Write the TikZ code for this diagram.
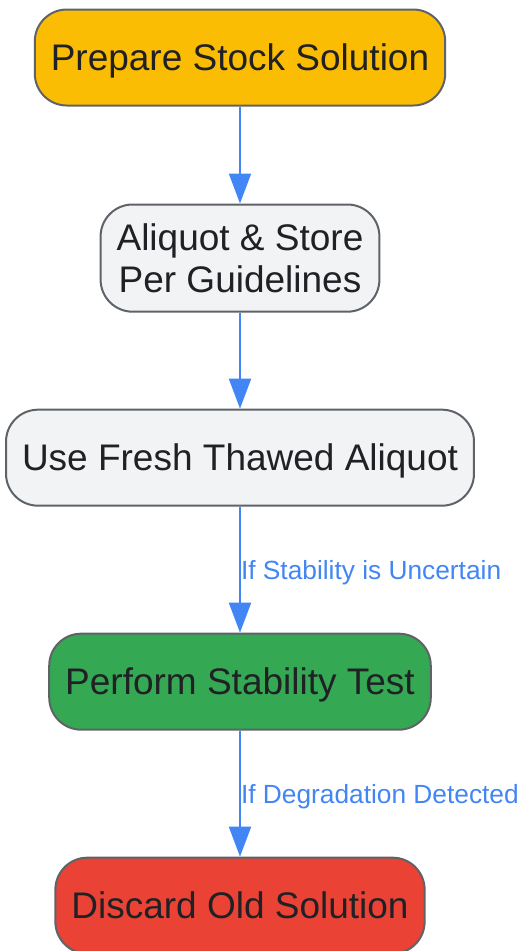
\documentclass[tikz,border=0pt]{standalone}
\usepackage{fontspec}
\setmainfont{Liberation Sans}
\usetikzlibrary{arrows.meta,positioning}
\definecolor{stockyellow}{HTML}{FBBC04}
\definecolor{aliquotgray}{HTML}{F1F3F4}
\definecolor{testgreen}{HTML}{34A853}
\definecolor{discardred}{HTML}{EA4335}
\definecolor{edgeblue}{HTML}{4285F4}
\definecolor{borderdark}{HTML}{5F6368}
\definecolor{textdark}{HTML}{202124}

\begin{document}
\begin{tikzpicture}[>={Triangle[length=30pt,width=22pt]},node distance=96pt,
                    line width=2pt]
  \tikzstyle{process}=[rectangle, rounded corners=32pt, draw=borderdark,
    line width=2pt, text=textdark, font=\fontsize{37}{42}\selectfont,
    align=center, inner xsep=16pt, inner ysep=19pt, minimum height=96pt]
  \tikzstyle{oneline}=[text height=26pt, text depth=0pt]
  \tikzstyle{flow}=[->, draw=edgeblue, line width=2pt]
  \tikzstyle{cond}=[anchor=west, text=edgeblue, inner sep=0pt,
    font=\fontsize{26.3}{30}\selectfont, text height=19pt, text depth=0pt]

  \useasboundingbox (0,0) rectangle (521pt,-951pt);

  \node[process,oneline,fill=stockyellow] (prep) at (240pt,-57.5pt) {Prepare Stock Solution};
  \node[process,fill=aliquotgray] (store) [below=97pt of prep] {Aliquot \& Store\\Per Guidelines};
  \node[process,oneline,fill=aliquotgray] (use) [below=of store] {Use Fresh Thawed Aliquot};
  \node[process,oneline,fill=testgreen] (test) [below=126pt of use] {Perform Stability Test};
  \node[process,oneline,fill=discardred] (discard) [below=126pt of test] {Discard Old Solution};

  \draw[flow] (prep) -- (store);
  \draw[flow] (store) -- (use);
  \draw[flow] (use) -- node[cond] {If Stability is Uncertain} (test);
  \draw[flow] (test) -- node[cond] {If Degradation Detected} (discard);
\end{tikzpicture}
\end{document}
